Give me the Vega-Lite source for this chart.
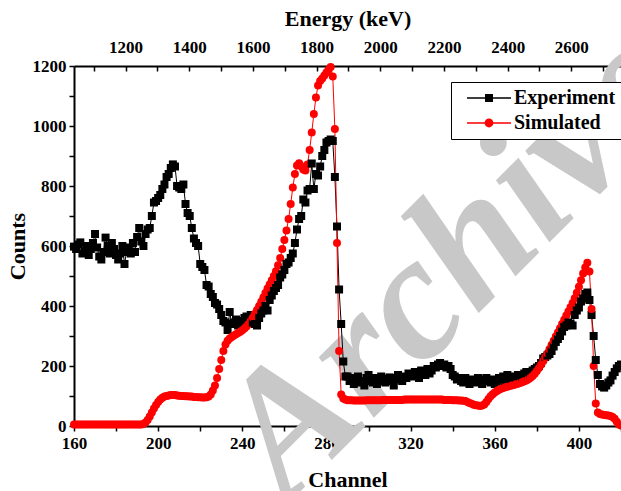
{
"$schema": "https://vega.github.io/schema/vega-lite/v6.json",
"width": 547, "height": 360, "autosize": "none",
"padding": {"left": 74, "top": 66, "right": 0, "bottom": 65},
"config": {
  "font": "Liberation Serif",
  "view": {"stroke": null},
  "axis": {"labelFont": "Liberation Serif", "labelFontWeight": "bold", "labelFontSize": 17, "labelColor": "black", "labelFlush": false,
           "titleFont": "Liberation Serif", "titleFontWeight": "bold", "titleFontSize": 22, "titleColor": "black",
           "domainColor": "black", "domainWidth": 2, "tickColor": "black", "tickWidth": 1.5, "tickSize": 5, "grid": false, "labelPadding": 3}
},
"layer": [
  {
    "data": {"values": [
{"ch":160,"Experiment":598,"Simulated":5},{"ch":161,"Experiment":590,"Simulated":5},{"ch":162,"Experiment":605,"Simulated":5},{"ch":163,"Experiment":612,"Simulated":5},{"ch":164,"Experiment":575,"Simulated":5},{"ch":165,"Experiment":585,"Simulated":5},{"ch":166,"Experiment":600,"Simulated":5},{"ch":167,"Experiment":570,"Simulated":5},{"ch":168,"Experiment":590,"Simulated":5},{"ch":169,"Experiment":610,"Simulated":5},
{"ch":170,"Experiment":640,"Simulated":5},{"ch":171,"Experiment":595,"Simulated":5},{"ch":172,"Experiment":565,"Simulated":5},{"ch":173,"Experiment":555,"Simulated":5},{"ch":174,"Experiment":580,"Simulated":5},{"ch":175,"Experiment":628,"Simulated":5},{"ch":176,"Experiment":600,"Simulated":5},{"ch":177,"Experiment":575,"Simulated":5},{"ch":178,"Experiment":610,"Simulated":5},{"ch":179,"Experiment":590,"Simulated":5},
{"ch":180,"Experiment":570,"Simulated":5},{"ch":181,"Experiment":555,"Simulated":5},{"ch":182,"Experiment":575,"Simulated":5},{"ch":183,"Experiment":600,"Simulated":5},{"ch":184,"Experiment":540,"Simulated":5},{"ch":185,"Experiment":580,"Simulated":5},{"ch":186,"Experiment":595,"Simulated":5},{"ch":187,"Experiment":575,"Simulated":5},{"ch":188,"Experiment":610,"Simulated":5},{"ch":189,"Experiment":580,"Simulated":5},
{"ch":190,"Experiment":630,"Simulated":5},{"ch":191,"Experiment":660,"Simulated":5},{"ch":192,"Experiment":615,"Simulated":5},{"ch":193,"Experiment":600,"Simulated":7},{"ch":194,"Experiment":640,"Simulated":12},{"ch":195,"Experiment":655,"Simulated":20},{"ch":196,"Experiment":660,"Simulated":32},{"ch":197,"Experiment":700,"Simulated":45},{"ch":198,"Experiment":745,"Simulated":58},{"ch":199,"Experiment":750,"Simulated":70},
{"ch":200,"Experiment":760,"Simulated":80},{"ch":201,"Experiment":770,"Simulated":88},{"ch":202,"Experiment":790,"Simulated":94},{"ch":203,"Experiment":805,"Simulated":98},{"ch":204,"Experiment":830,"Simulated":100},{"ch":205,"Experiment":840,"Simulated":102},{"ch":206,"Experiment":860,"Simulated":103},{"ch":207,"Experiment":872,"Simulated":103},{"ch":208,"Experiment":865,"Simulated":103},{"ch":209,"Experiment":800,"Simulated":102},
{"ch":210,"Experiment":795,"Simulated":101},{"ch":211,"Experiment":790,"Simulated":100},{"ch":212,"Experiment":805,"Simulated":100},{"ch":213,"Experiment":740,"Simulated":99},{"ch":214,"Experiment":710,"Simulated":99},{"ch":215,"Experiment":700,"Simulated":98},{"ch":216,"Experiment":660,"Simulated":98},{"ch":217,"Experiment":625,"Simulated":97},{"ch":218,"Experiment":610,"Simulated":97},{"ch":219,"Experiment":600,"Simulated":96},
{"ch":220,"Experiment":540,"Simulated":96},{"ch":221,"Experiment":530,"Simulated":95},{"ch":222,"Experiment":520,"Simulated":95},{"ch":223,"Experiment":470,"Simulated":96},{"ch":224,"Experiment":465,"Simulated":98},{"ch":225,"Experiment":440,"Simulated":105},{"ch":226,"Experiment":430,"Simulated":118},{"ch":227,"Experiment":410,"Simulated":135},{"ch":228,"Experiment":405,"Simulated":160},{"ch":229,"Experiment":390,"Simulated":190},
{"ch":230,"Experiment":370,"Simulated":220},{"ch":231,"Experiment":350,"Simulated":250},{"ch":232,"Experiment":345,"Simulated":272},{"ch":233,"Experiment":320,"Simulated":284},{"ch":234,"Experiment":380,"Simulated":292},{"ch":235,"Experiment":340,"Simulated":297},{"ch":236,"Experiment":345,"Simulated":302},{"ch":237,"Experiment":355,"Simulated":306},{"ch":238,"Experiment":335,"Simulated":310},{"ch":239,"Experiment":350,"Simulated":314},
{"ch":240,"Experiment":345,"Simulated":319},{"ch":241,"Experiment":360,"Simulated":325},{"ch":242,"Experiment":365,"Simulated":332},{"ch":243,"Experiment":355,"Simulated":340},{"ch":244,"Experiment":370,"Simulated":350},{"ch":245,"Experiment":345,"Simulated":362},{"ch":246,"Experiment":340,"Simulated":374},{"ch":247,"Experiment":335,"Simulated":387},{"ch":248,"Experiment":360,"Simulated":400},{"ch":249,"Experiment":375,"Simulated":414},
{"ch":250,"Experiment":385,"Simulated":428},{"ch":251,"Experiment":400,"Simulated":443},{"ch":252,"Experiment":385,"Simulated":458},{"ch":253,"Experiment":420,"Simulated":472},{"ch":254,"Experiment":435,"Simulated":486},{"ch":255,"Experiment":450,"Simulated":500},{"ch":256,"Experiment":460,"Simulated":516},{"ch":257,"Experiment":470,"Simulated":536},{"ch":258,"Experiment":495,"Simulated":560},{"ch":259,"Experiment":505,"Simulated":590},
{"ch":260,"Experiment":520,"Simulated":620},{"ch":261,"Experiment":540,"Simulated":652},{"ch":262,"Experiment":545,"Simulated":690},{"ch":263,"Experiment":560,"Simulated":740},{"ch":264,"Experiment":575,"Simulated":795},{"ch":265,"Experiment":610,"Simulated":840},{"ch":266,"Experiment":655,"Simulated":868},{"ch":267,"Experiment":690,"Simulated":876},{"ch":268,"Experiment":700,"Simulated":866},{"ch":269,"Experiment":755,"Simulated":855},
{"ch":270,"Experiment":745,"Simulated":852},{"ch":271,"Experiment":785,"Simulated":872},{"ch":272,"Experiment":790,"Simulated":920},{"ch":273,"Experiment":875,"Simulated":978},{"ch":274,"Experiment":790,"Simulated":1040},{"ch":275,"Experiment":840,"Simulated":1095},{"ch":276,"Experiment":835,"Simulated":1135},{"ch":277,"Experiment":865,"Simulated":1150},{"ch":278,"Experiment":900,"Simulated":1158},{"ch":279,"Experiment":920,"Simulated":1168},
{"ch":280,"Experiment":945,"Simulated":1178},{"ch":281,"Experiment":950,"Simulated":1188},{"ch":282,"Experiment":955,"Simulated":1197},{"ch":283,"Experiment":950,"Simulated":1165},{"ch":284,"Experiment":830,"Simulated":990},{"ch":285,"Experiment":665,"Simulated":610},{"ch":286,"Experiment":455,"Simulated":250},{"ch":287,"Experiment":340,"Simulated":105},{"ch":288,"Experiment":215,"Simulated":92},{"ch":289,"Experiment":165,"Simulated":88},
{"ch":290,"Experiment":165,"Simulated":86},{"ch":291,"Experiment":150,"Simulated":86},{"ch":292,"Experiment":160,"Simulated":86},{"ch":293,"Experiment":140,"Simulated":85},{"ch":294,"Experiment":155,"Simulated":85},{"ch":295,"Experiment":165,"Simulated":85},{"ch":296,"Experiment":145,"Simulated":85},{"ch":297,"Experiment":150,"Simulated":85},{"ch":298,"Experiment":135,"Simulated":85},{"ch":299,"Experiment":160,"Simulated":86},
{"ch":300,"Experiment":170,"Simulated":86},{"ch":301,"Experiment":150,"Simulated":86},{"ch":302,"Experiment":145,"Simulated":86},{"ch":303,"Experiment":160,"Simulated":86},{"ch":304,"Experiment":140,"Simulated":86},{"ch":305,"Experiment":155,"Simulated":86},{"ch":306,"Experiment":165,"Simulated":86},{"ch":307,"Experiment":150,"Simulated":87},{"ch":308,"Experiment":145,"Simulated":87},{"ch":309,"Experiment":158,"Simulated":87},
{"ch":310,"Experiment":162,"Simulated":87},{"ch":311,"Experiment":150,"Simulated":87},{"ch":312,"Experiment":135,"Simulated":87},{"ch":313,"Experiment":160,"Simulated":87},{"ch":314,"Experiment":170,"Simulated":87},{"ch":315,"Experiment":155,"Simulated":87},{"ch":316,"Experiment":150,"Simulated":87},{"ch":317,"Experiment":165,"Simulated":88},{"ch":318,"Experiment":160,"Simulated":88},{"ch":319,"Experiment":175,"Simulated":88},
{"ch":320,"Experiment":170,"Simulated":88},{"ch":321,"Experiment":165,"Simulated":88},{"ch":322,"Experiment":180,"Simulated":88},{"ch":323,"Experiment":175,"Simulated":88},{"ch":324,"Experiment":160,"Simulated":88},{"ch":325,"Experiment":185,"Simulated":88},{"ch":326,"Experiment":180,"Simulated":88},{"ch":327,"Experiment":170,"Simulated":88},{"ch":328,"Experiment":190,"Simulated":88},{"ch":329,"Experiment":175,"Simulated":88},
{"ch":330,"Experiment":185,"Simulated":88},{"ch":331,"Experiment":200,"Simulated":88},{"ch":332,"Experiment":195,"Simulated":88},{"ch":333,"Experiment":205,"Simulated":88},{"ch":334,"Experiment":210,"Simulated":88},{"ch":335,"Experiment":200,"Simulated":88},{"ch":336,"Experiment":205,"Simulated":87},{"ch":337,"Experiment":195,"Simulated":87},{"ch":338,"Experiment":200,"Simulated":87},{"ch":339,"Experiment":190,"Simulated":87},
{"ch":340,"Experiment":170,"Simulated":86},{"ch":341,"Experiment":165,"Simulated":86},{"ch":342,"Experiment":155,"Simulated":86},{"ch":343,"Experiment":160,"Simulated":85},{"ch":344,"Experiment":150,"Simulated":85},{"ch":345,"Experiment":145,"Simulated":84},{"ch":346,"Experiment":160,"Simulated":83},{"ch":347,"Experiment":150,"Simulated":80},{"ch":348,"Experiment":140,"Simulated":77},{"ch":349,"Experiment":155,"Simulated":74},
{"ch":350,"Experiment":150,"Simulated":71},{"ch":351,"Experiment":145,"Simulated":69},{"ch":352,"Experiment":160,"Simulated":68},{"ch":353,"Experiment":150,"Simulated":67},{"ch":354,"Experiment":140,"Simulated":68},{"ch":355,"Experiment":155,"Simulated":72},{"ch":356,"Experiment":160,"Simulated":80},{"ch":357,"Experiment":150,"Simulated":90},{"ch":358,"Experiment":145,"Simulated":99},{"ch":359,"Experiment":155,"Simulated":106},
{"ch":360,"Experiment":140,"Simulated":112},{"ch":361,"Experiment":150,"Simulated":117},{"ch":362,"Experiment":160,"Simulated":121},{"ch":363,"Experiment":155,"Simulated":124},{"ch":364,"Experiment":165,"Simulated":127},{"ch":365,"Experiment":150,"Simulated":129},{"ch":366,"Experiment":170,"Simulated":131},{"ch":367,"Experiment":160,"Simulated":133},{"ch":368,"Experiment":155,"Simulated":135},{"ch":369,"Experiment":165,"Simulated":137},
{"ch":370,"Experiment":160,"Simulated":139},{"ch":371,"Experiment":170,"Simulated":141},{"ch":372,"Experiment":165,"Simulated":143},{"ch":373,"Experiment":160,"Simulated":146},{"ch":374,"Experiment":175,"Simulated":149},{"ch":375,"Experiment":180,"Simulated":152},{"ch":376,"Experiment":170,"Simulated":156},{"ch":377,"Experiment":175,"Simulated":161},{"ch":378,"Experiment":185,"Simulated":167},{"ch":379,"Experiment":190,"Simulated":174},
{"ch":380,"Experiment":195,"Simulated":183},{"ch":381,"Experiment":200,"Simulated":193},{"ch":382,"Experiment":210,"Simulated":204},{"ch":383,"Experiment":225,"Simulated":216},{"ch":384,"Experiment":230,"Simulated":229},{"ch":385,"Experiment":235,"Simulated":242},{"ch":386,"Experiment":240,"Simulated":256},{"ch":387,"Experiment":250,"Simulated":270},{"ch":388,"Experiment":265,"Simulated":284},{"ch":389,"Experiment":280,"Simulated":298},
{"ch":390,"Experiment":290,"Simulated":312},{"ch":391,"Experiment":300,"Simulated":326},{"ch":392,"Experiment":315,"Simulated":340},{"ch":393,"Experiment":330,"Simulated":354},{"ch":394,"Experiment":335,"Simulated":368},{"ch":395,"Experiment":345,"Simulated":382},{"ch":396,"Experiment":340,"Simulated":396},{"ch":397,"Experiment":335,"Simulated":410},{"ch":398,"Experiment":370,"Simulated":426},{"ch":399,"Experiment":385,"Simulated":444},
{"ch":400,"Experiment":395,"Simulated":464},{"ch":401,"Experiment":415,"Simulated":486},{"ch":402,"Experiment":425,"Simulated":508},{"ch":403,"Experiment":440,"Simulated":528},{"ch":404,"Experiment":445,"Simulated":544},{"ch":405,"Experiment":420,"Simulated":515},{"ch":406,"Experiment":370,"Simulated":390},{"ch":407,"Experiment":300,"Simulated":200},{"ch":408,"Experiment":220,"Simulated":75},{"ch":409,"Experiment":170,"Simulated":45},
{"ch":410,"Experiment":140,"Simulated":40},{"ch":411,"Experiment":132,"Simulated":38},{"ch":412,"Experiment":128,"Simulated":37},{"ch":413,"Experiment":135,"Simulated":36},{"ch":414,"Experiment":145,"Simulated":35},{"ch":415,"Experiment":152,"Simulated":33},{"ch":416,"Experiment":168,"Simulated":30},{"ch":417,"Experiment":180,"Simulated":24},{"ch":418,"Experiment":192,"Simulated":14},{"ch":419,"Experiment":200,"Simulated":5},
{"ch":420,"Experiment":205,"Simulated":2}
    ]},
    "transform": [{"fold": ["Experiment", "Simulated"], "as": ["series", "counts"]}],
    "encoding": {
      "x": {"field": "ch", "type": "quantitative", "scale": {"domain": [160, 420], "nice": false, "zero": false},
            "axis": {"title": "Channel", "values": [160,180,200,220,240,260,280,300,320,340,360,380,400,420],
                     "labelExpr": "datum.value % 40 == 0 ? datum.label : ''", "titlePadding": 18, "labelPadding": 4}},
      "y": {"field": "counts", "type": "quantitative", "scale": {"domain": [0, 1200], "nice": false},
            "axis": {"title": "Counts", "values": [0,100,200,300,400,500,600,700,800,900,1000,1100,1200], "format": "d",
                     "labelExpr": "datum.value % 200 == 0 ? datum.label : ''", "titlePadding": 3}}
    },
    "layer": [
      {"transform": [{"filter": "datum.ch == 160 && datum.series == 'Experiment'"}],
       "mark": {"type": "text", "text": "Archive", "font": "Liberation Serif", "fontSize": 178, "fontStyle": "italic", "fontWeight": "bold", "color": "#c8c8c8", "angle": -45, "align": "center", "baseline": "middle"},
       "encoding": {"x": {"datum": 340}, "y": {"datum": 540}}},
      {"mark": {"type": "line", "strokeWidth": 1},
       "encoding": {"color": {"field": "series", "type": "nominal", "scale": {"domain": ["Experiment", "Simulated"], "range": ["black", "#ff0000"]}, "legend": null}}},
      {"mark": {"type": "point", "filled": true, "opacity": 1, "size": 64},
       "encoding": {"color": {"field": "series", "type": "nominal", "scale": {"domain": ["Experiment", "Simulated"], "range": ["black", "#ff0000"]}, "legend": null},
                    "shape": {"field": "series", "type": "nominal", "scale": {"range": ["square", "circle"]}, "legend": null}}},
      {"transform": [{"filter": "datum.ch == 300"}],
       "mark": {"type": "point", "filled": true, "opacity": 0},
       "encoding": {"color": {"field": "series", "type": "nominal", "scale": {"domain": ["Experiment", "Simulated"], "range": ["black", "#ff0000"]},
                      "legend": {"title": null, "orient": "none", "legendX": 377, "legendY": 16, "strokeColor": "black", "fillColor": "white",
                                 "padding": 6, "symbolSize": 256, "symbolOpacity": 1, "symbolStrokeWidth": 0, "labelOffset": 37,
                                 "labelFont": "Liberation Serif", "labelFontSize": 20, "labelFontWeight": "bold", "labelColor": "black", "rowPadding": 5}},
                    "shape": {"field": "series", "type": "nominal",
                      "scale": {"domain": ["Experiment", "Simulated"], "range": ["M0,-0.09H5.5V0.09H0Z M2.25,-0.5H3.25V0.5H2.25Z", "M0,-0.09H5.5V0.09H0Z M3.3,0A0.55,0.55 0 1,1 2.2,0A0.55,0.55 0 1,1 3.3,0Z"]},
                      "legend": {"title": null, "orient": "none", "legendX": 377, "legendY": 16, "strokeColor": "black", "fillColor": "white",
                                 "padding": 6, "symbolSize": 256, "symbolOpacity": 1, "symbolStrokeWidth": 0, "labelOffset": 37,
                                 "labelFont": "Liberation Serif", "labelFontSize": 20, "labelFontWeight": "bold", "labelColor": "black", "rowPadding": 5}}}}
    ],
    "resolve": {"scale": {"shape": "independent", "color": "independent"}}
  },
  {
    "data": {"values": [{"energy": 1038}, {"energy": 2756}]},
    "mark": {"type": "point", "opacity": 0},
    "encoding": {
      "x": {"field": "energy", "type": "quantitative", "scale": {"domain": [1038, 2756], "nice": false, "zero": false},
            "axis": {"orient": "top", "title": "Energy (keV)", "values": [1100,1200,1300,1400,1500,1600,1700,1800,1900,2000,2100,2200,2300,2400,2500,2600,2700],
                     "labelExpr": "datum.value % 200 == 0 ? datum.label : ''", "format": "d", "tickSize": -5, "labelPadding": 15, "titlePadding": 8}}
    }
  }
],
"resolve": {"scale": {"x": "independent"}}
}
